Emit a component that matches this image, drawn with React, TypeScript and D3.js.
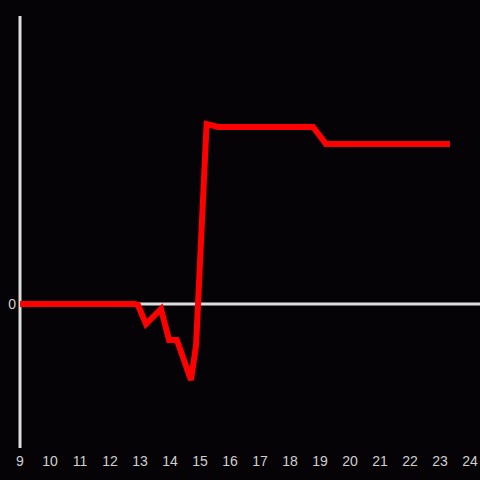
import React from "react";
import * as d3 from "d3";

const hours = [9, 12.83, 12.93, 13.2, 13.7, 13.97, 14.23, 14.7, 14.87, 15.22, 15.6, 18.77, 19.2, 23.33];
const values = [0, 0, -1, -20, -5, -36, -36, -76, -41, 180, 177, 177, 160, 160];
const xTicks = [9, 10, 11, 12, 13, 14, 15, 16, 17, 18, 19, 20, 21, 22, 23, 24];
const yTicks = [0];

export default function App() {
  const W = 480, H = 480;
  const x = d3.scaleLinear().domain([9, 24]).range([20, 470]);
  const y = d3.scaleLinear().domain([-144, 288]).range([448, 16]);
  const data = hours.map((h, i) => [h, values[i]] as [number, number]);
  const line = d3.line<[number, number]>().x(d => x(d[0])).y(d => y(d[1]));
  return (
    <svg width={W} height={H} style={{ position: "fixed", top: 0, left: 0, background: "#050306" }}
      fontFamily="Liberation Sans, Arial, sans-serif">
      <rect x={0} y={0} width={W} height={H} fill="#050306" />
      <line x1={20} x2={20} y1={16} y2={448} stroke="#dddddd" strokeWidth={3} />
      <line x1={20} x2={480} y1={y(0)} y2={y(0)} stroke="#dddddd" strokeWidth={3} />
      {yTicks.map(t => (
        <text key={t} x={16} y={y(t)} dy="0.35em" textAnchor="end" fill="#d0d0d0" fontSize={14}>{t}</text>
      ))}
      {xTicks.map(t => (
        <text key={t} x={x(t)} y={466} textAnchor="middle" fill="#d0d0d0" fontSize={14}>{t}</text>
      ))}
      <path d={line(data) || ""} fill="none" stroke="#ff0000" strokeWidth={6} strokeLinejoin="miter" strokeLinecap="butt" />
    </svg>
  );
}
